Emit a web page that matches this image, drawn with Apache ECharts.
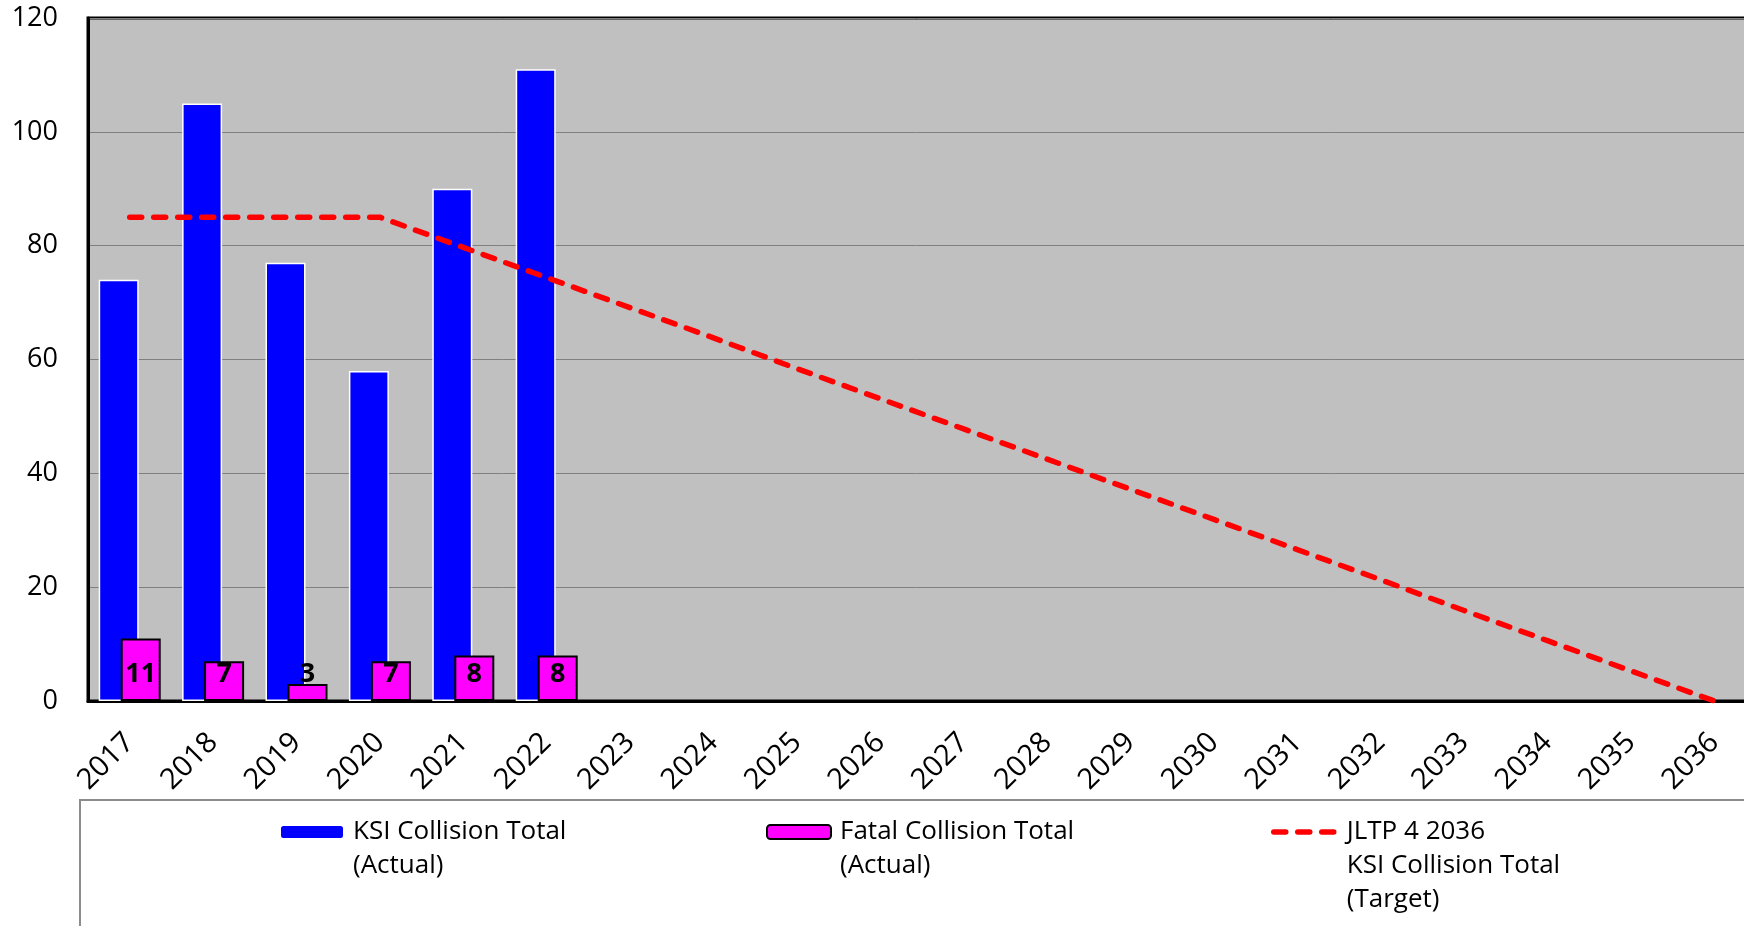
<!DOCTYPE html>
<html>
<head>
<meta charset="utf-8">
<script src="https://cdn.jsdelivr.net/npm/echarts@6/dist/echarts.min.js"></script>
<style>
  html, body { margin: 0; padding: 0; background: #fff; }
  #chart { width: 1744px; height: 926px; }
</style>
</head>
<body>
<div id="chart"></div>
<script>
// years on the x axis
const years = ['2017', '2018', '2019', '2020', '2021', '2022', '2023', '2024', '2025', '2026',
  '2027', '2028', '2029', '2030', '2031', '2032', '2033', '2034', '2035', '2036'];
// actual totals (only to 2022)
const ksiActual = [74, 105, 77, 58, 90, 111];
const fatalActual = [11, 7, 3, 7, 8, 8];
// JLTP 4 target line
const ksiTarget = [85, 85, 85, 85, 79.7, 74.4, 69.1, 63.8, 58.4, 53.1,
  47.8, 42.5, 37.2, 31.9, 26.6, 21.3, 15.9, 10.6, 5.3, 0];
const yTicks = [0, 20, 40, 60, 80, 100, 120];

const names = {
  ksi: 'KSI Collision Total\n(Actual)',
  fatal: 'Fatal Collision Total\n(Actual)',
  target: 'JLTP 4 2036\nKSI Collision Total\n(Target)'
};

let chart = echarts.init(document.getElementById('chart'));
const font = '"Open Sans", "DejaVu Sans", sans-serif';

// one legend per entry so the icon sits next to the first text line
function legendAt(left, top, item, lines) {
  return {
    data: [item],
    left: left,
    top: top,
    orient: 'horizontal',
    itemWidth: 64,
    itemHeight: 14,
    selectedMode: false,
    formatter: function (name) {
      return name.split('\n').map(function (s) { return '{a|' + s + '}'; }).join('\n');
    },
    textStyle: {
      color: '#000',
      padding: [34 * (lines - 1), 0, 0, 4],
      rich: {
        a: { fontFamily: font, fontSize: 26, lineHeight: 34, color: '#000' }
      }
    }
  };
}

const option = {
  animation: false,
  backgroundColor: '#fff',
  grid: {
    left: 88,
    top: 18,
    bottom: 225,
    width: 1668,
    outerBoundsMode: 'none',
    show: true,
    backgroundColor: '#c0c0c0',
    borderColor: '#000',
    borderWidth: 3
  },
  legend: [
    legendAt(274, 814, names.ksi, 2),
    legendAt(761, 814, names.fatal, 2),
    legendAt(1266, 814, {
      name: names.target,
      itemStyle: { opacity: 0 },
      lineStyle: { color: '#ff0000', width: 5.5, type: [12, 12], cap: 'round' }
    }, 3)
  ],
  graphic: [{
    type: 'rect',
    silent: true,
    shape: { x: 80, y: 800, width: 1700, height: 200 },
    style: { fill: 'none', stroke: '#8c8c8c', lineWidth: 2 }
  }],
  xAxis: {
    type: 'category',
    data: years,
    boundaryGap: true,
    axisLine: { lineStyle: { color: '#000', width: 3 } },
    axisTick: { show: false },
    axisLabel: {
      rotate: 45,
      margin: 37,
      fontFamily: font,
      fontSize: 29,
      color: '#000',
      interval: 0
    },
    splitLine: { show: false }
  },
  yAxis: {
    type: 'value',
    min: yTicks[0],
    max: yTicks[yTicks.length - 1],
    interval: 20,
    axisLine: { show: true, lineStyle: { color: '#000', width: 3 } },
    axisTick: { show: false },
    axisLabel: {
      margin: 30,
      fontFamily: font,
      fontSize: 27,
      color: '#000'
    },
    splitLine: { lineStyle: { color: '#808080', width: 1 } }
  },
  series: [
    {
      name: names.ksi,
      type: 'bar',
      data: ksiActual,
      barWidth: 40,
      barGap: '-45%',
      itemStyle: { color: '#0000ff', borderColor: '#ffffff', borderWidth: 1.5 },
      z: 2
    },
    {
      name: names.fatal,
      type: 'bar',
      data: fatalActual,
      barWidth: 40,
      itemStyle: { color: '#ff00ff', borderColor: '#000', borderWidth: 2 },
      label: {
        show: true,
        position: 'insideBottom',
        distance: 13,
        fontFamily: font,
        fontWeight: 'bold',
        fontSize: 27,
        color: '#000'
      },
      z: 3
    },
    {
      name: names.target,
      type: 'line',
      data: ksiTarget,
      showSymbol: false,
      symbol: 'none',
      lineStyle: { color: '#ff0000', width: 5.5, type: [12, 12], cap: 'round' },
      itemStyle: { color: '#ff0000' },
      z: 4
    }
  ]
};

chart.setOption(option);
window.onresize = function () {
  chart.resize();
};
</script>
</body>
</html>
